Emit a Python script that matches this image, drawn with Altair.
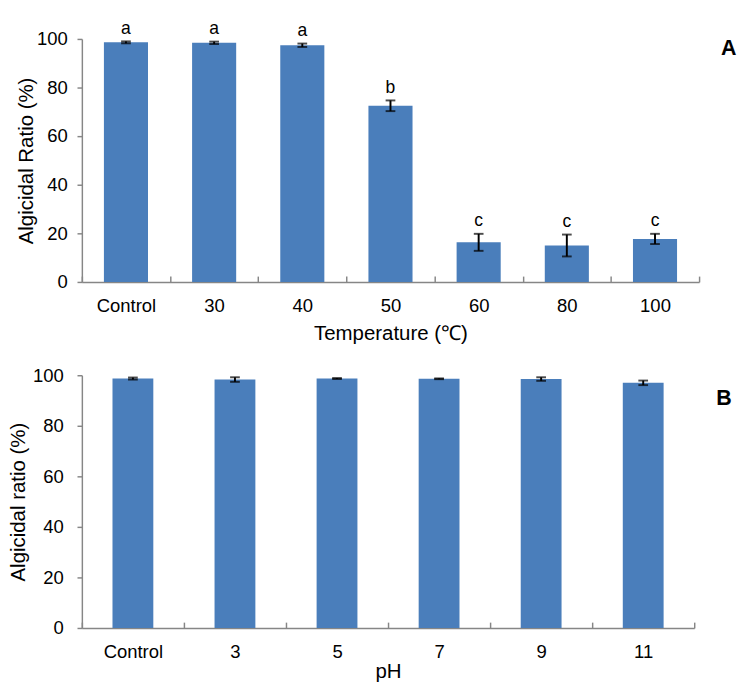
import altair as alt
import pandas as pd

# ---- data ----
temp_cats = ["Control", "30", "40", "50", "60", "80", "100"]
temp_vals = [98.6, 98.4, 97.4, 72.5, 16.3, 15.0, 17.7]
temp_errs = [0.4, 0.5, 0.7, 2.2, 3.5, 4.5, 2.1]
temp_letters = ["a", "a", "a", "b", "c", "c", "c"]

ph_cats = ["Control", "3", "5", "7", "9", "11"]
ph_vals = [98.7, 98.3, 98.7, 98.6, 98.5, 97.0]
ph_errs = [0.4, 0.9, 0.2, 0.15, 0.7, 0.9]
ph_letters = ["", "", "", "", "", ""]

y_ticks = [0, 20, 40, 60, 80, 100]

FONT = "Liberation Sans"
BAR = "#4a7ebb"
GRAY = "#868686"


def panel(cats, vals, errs, letters, xtitle, ytitle, tag, W, H, band,
          ylabpad, yext, ytitlepad, xlabpad, xtitlepad, tagoffset, tagsize, tagdy):
    df = pd.DataFrame({
        "cat": cats,
        "v": vals,
        "lo": [v - e for v, e in zip(vals, errs)],
        "hi": [v + e for v, e in zip(vals, errs)],
        "lab": letters,
    })
    xs = alt.Scale(domain=cats, paddingInner=0, paddingOuter=0)
    ys = alt.Scale(domain=[0, 100], nice=False)
    yax = alt.Axis(title=ytitle, values=y_ticks, tickSize=5, labelPadding=ylabpad,
                   titlePadding=ytitlepad, grid=False, minExtent=yext, maxExtent=yext)
    base = alt.Chart(df)

    bars = base.mark_bar(color=BAR, width=alt.RelativeBandSize(band)).encode(
        x=alt.X("cat:N", scale=xs, sort=cats,
                axis=alt.Axis(title=xtitle, orient="bottom", labelAngle=0, ticks=True,
                              tickSize={"expr": "-6"}, tickBand="extent",
                              labelPadding=xlabpad, titlePadding=xtitlepad)),
        y=alt.Y("v:Q", scale=ys, axis=yax),
    )
    rules = base.mark_rule(color="black", strokeWidth=2).encode(
        x=alt.X("cat:N", scale=xs, sort=cats),
        y=alt.Y("lo:Q", scale=ys, axis=yax),
        y2="hi:Q",
    )
    cap_hi = base.mark_tick(color="black", thickness=2, size=10).encode(
        x=alt.X("cat:N", scale=xs, sort=cats),
        y=alt.Y("hi:Q", scale=ys, axis=yax),
    )
    cap_lo = base.mark_tick(color="black", thickness=2, size=10).encode(
        x=alt.X("cat:N", scale=xs, sort=cats),
        y=alt.Y("lo:Q", scale=ys, axis=yax),
    )
    text = base.mark_text(dy=-8, baseline="alphabetic", fontSize=18, font=FONT,
                          color="black").encode(
        x=alt.X("cat:N", scale=xs, sort=cats),
        y=alt.Y("hi:Q", scale=ys, axis=yax),
        text="lab:N",
    )
    return alt.layer(bars, rules, cap_hi, cap_lo, text).properties(
        width=W, height=H,
        title=alt.TitleParams(text=tag, orient="right", anchor="start", angle=0,
                              fontSize=tagsize, fontWeight="bold", font=FONT,
                              align="left", baseline="top", offset=tagoffset,
                              dy=tagdy, frame="group", color="black"),
    )


pa = panel(temp_cats, temp_vals, temp_errs, temp_letters, "Temperature (℃)",
           "Algicidal Ratio (%)", "A", 635, 250, 0.5, 10, 46, 1, 21, 8, 6, 22, 0)
pb = panel(ph_cats, ph_vals, ph_errs, ph_letters, "pH",
           "Algicidal ratio (%)", "B", 630, 260, 0.4, 14, 50, 5, 21, 0, 6, 22, 14)

chart = alt.vconcat(pa, pb, spacing=13).properties(
    padding={"left": 0, "top": 2, "right": 0, "bottom": 0}
).configure_view(stroke=None).configure_axis(
    labelFont=FONT, titleFont=FONT, labelFontSize=19, titleFontSize=21,
    labelColor="black", titleColor="black", titleFontWeight="normal",
    domainColor=GRAY, domainWidth=1.5, tickColor=GRAY, tickWidth=1.5,
)

chart.save("out.html", embed_options={"renderer": "svg", "actions": False})
